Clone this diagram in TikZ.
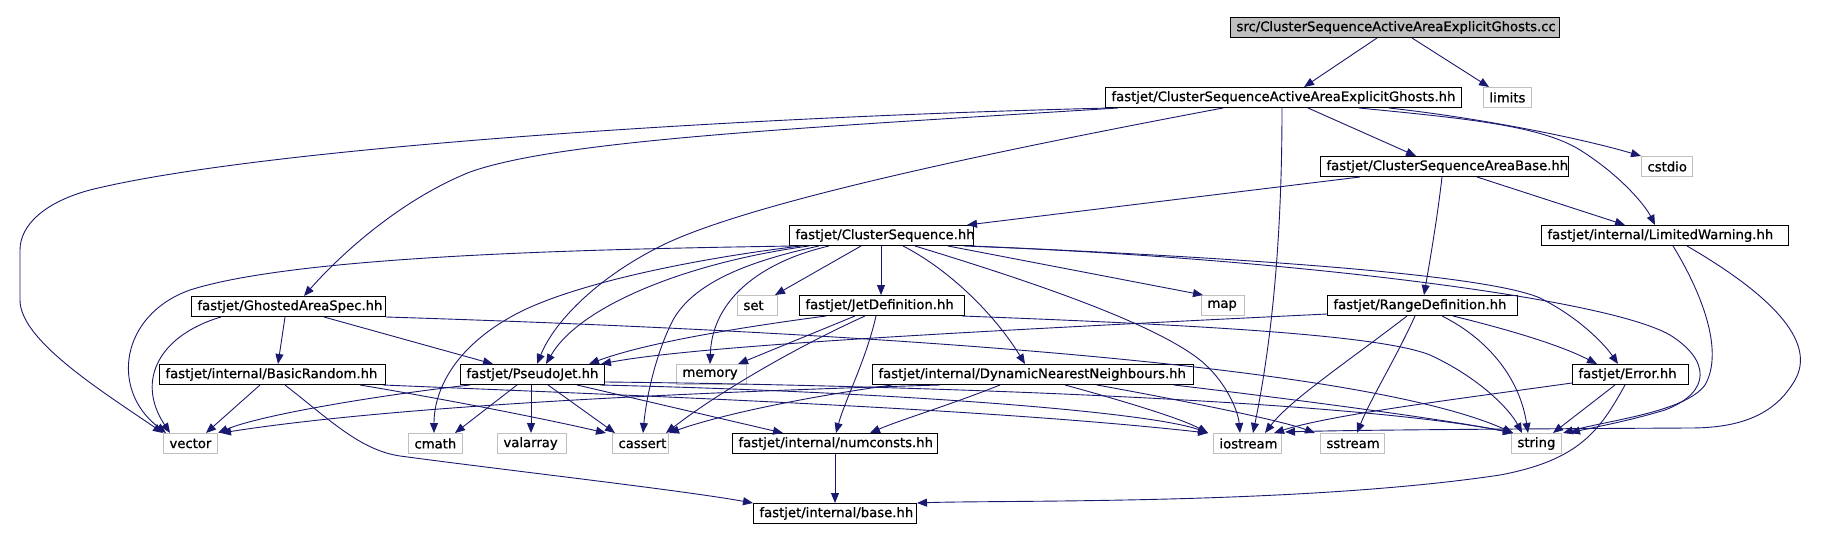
\documentclass[tikz,border=0pt]{standalone}
\usepackage{fontspec}
\newfontfamily\dgfont{DejaVu Sans}[FakeBold=0.8]
\usetikzlibrary{arrows.meta}
\definecolor{grey75}{HTML}{BFBFBF}
\definecolor{edgeblue}{HTML}{191970}
\tikzset{
  hdr/.style={draw=black, line width=1pt, rectangle, minimum height=20pt,
    inner xsep=6pt, inner ysep=0pt, align=left, anchor=north west,
    font={\dgfont\fontsize{13.2pt}{15pt}\selectfont}},
  sys/.style={hdr, draw=grey75},
  root/.style={hdr, fill=grey75},
  e/.style={draw=edgeblue, line width=0.9pt, -{Triangle[length=10pt,width=8pt]}}
}
\begin{document}
\begin{tikzpicture}[x=1pt,y=-1pt]
\path[use as bounding box, fill=white] (0,0) rectangle (1844,540);
% nodes
\node[root, text width=317pt] (src) at (1230,17) {\mbox{src/ClusterSequenceActiveAreaExplicitGhosts.cc}};
\node[hdr, text width=344pt] (csaaeg) at (1105,87) {\mbox{fastjet/ClusterSequenceActiveAreaExplicitGhosts.hh}};
\node[sys, text width=36pt] (limits) at (1483,87) {\mbox{limits}};
\node[hdr, text width=236pt] (csab) at (1320,156) {\mbox{fastjet/ClusterSequenceAreaBase.hh}};
\node[sys, text width=39pt] (cstdio) at (1641,156) {\mbox{cstdio}};
\node[hdr, text width=172pt] (cs) at (789,225) {\mbox{fastjet/ClusterSequence.hh}};
\node[hdr, text width=235pt] (lw) at (1541,225) {\mbox{fastjet/internal/LimitedWarning.hh}};
\node[hdr, text width=182pt] (gas) at (191,296) {\mbox{fastjet/GhostedAreaSpec.hh}};
\node[sys, text width=28pt] (set) at (737,295) {\mbox{set}};
\node[hdr, text width=153pt] (jetdef) at (799,295) {\mbox{fastjet/JetDefinition.hh}};
\node[sys, text width=31pt] (map) at (1201,295) {\mbox{map}};
\node[hdr, text width=178pt] (rangedef) at (1327,295) {\mbox{fastjet/RangeDefinition.hh}};
\node[hdr, text width=214pt] (basicrandom) at (159,364) {\mbox{fastjet/internal/BasicRandom.hh}};
\node[hdr, text width=132pt] (pseudojet) at (460,364) {\mbox{fastjet/PseudoJet.hh}};
\node[sys, text width=58pt] (memory) at (676,364) {\mbox{memory}};
\node[hdr, text width=309pt] (dnn) at (872,364) {\mbox{fastjet/internal/DynamicNearestNeighbours.hh}};
\node[hdr, text width=104pt] (error) at (1572,364) {\mbox{fastjet/Error.hh}};
\node[sys, text width=42pt] (vector) at (163,433) {\mbox{vector}};
\node[sys, text width=42pt] (cmath) at (408,433) {\mbox{cmath}};
\node[sys, text width=57pt] (valarray) at (497,433) {\mbox{valarray}};
\node[sys, text width=44pt] (cassert) at (612,433) {\mbox{cassert}};
\node[hdr, text width=193pt] (numconsts) at (732,433) {\mbox{fastjet/internal/numconsts.hh}};
\node[sys, text width=56pt] (iostream) at (1213,433) {\mbox{iostream}};
\node[sys, text width=52pt] (sstream) at (1320,433) {\mbox{sstream}};
\node[sys, text width=38pt] (string) at (1511,433) {\mbox{string}};
\node[hdr, text width=151pt] (base) at (753,503) {\mbox{fastjet/internal/base.hh}};
% src
\draw[e] ([xshift=147pt]src.south west) -- ([xshift=199pt]csaaeg.north west);
\draw[e] ([xshift=182pt]src.south west) -- ([xshift=6pt]limits.north west);
% csaaeg
\draw[e] ([xshift=5pt]csaaeg.south west) .. controls (700,118) and (250,150) .. (90,190) .. controls (45,202) and (20,225) .. (20,250) -- (20,300) .. controls (20,340) and (100,390) .. (vector.north west);
\draw[e] ([xshift=13pt]csaaeg.south west) .. controls (800,128) and (560,140) .. (470,172) .. controls (400,200) and (340,255) .. ([xshift=113pt]gas.north west);
\draw[e] ([xshift=118pt]csaaeg.south west) .. controls (1000,150) and (760,200) .. (667,243) .. controls (600,275) and (555,320) .. ([xshift=77pt]pseudojet.north west);
\draw[e] ([xshift=177pt]csaaeg.south west) .. controls (1282,250) and (1270,350) .. ([xshift=40pt]iostream.north west);
\draw[e] ([xshift=203pt]csaaeg.south west) -- ([xshift=96pt]csab.north west);
\draw[e] ([xshift=254pt]csaaeg.south west) .. controls (1460,118) and (1540,125) .. (1580,150) .. controls (1620,175) and (1645,205) .. ([xshift=114pt]lw.north west);
\draw[e] ([xshift=284pt]csaaeg.south west) .. controls (1480,118) and (1580,138) .. (cstdio.north west);
% csab
\draw[e] ([xshift=40pt]csab.south west) -- ([xshift=-7pt]cs.north east);
\draw[e] ([xshift=122pt]csab.south west) .. controls (1437,220) and (1430,260) .. ([xshift=97pt]rangedef.north west);
\draw[e] ([xshift=157pt]csab.south west) -- ([xshift=84pt]lw.north west);
% cs
\draw[e] ([xshift=5pt]cs.south west) .. controls (600,249) and (300,255) .. (190,290) .. controls (120,315) and (110,390) .. ([xshift=3pt]vector.north west);
\draw[e] ([xshift=12pt]cs.south west) .. controls (700,258) and (580,282) .. (520,312) .. controls (455,345) and (434,390) .. ([xshift=26pt]cmath.north west);
\draw[e] ([xshift=20pt]cs.south west) .. controls (690,262) and (580,305) .. ([xshift=86pt]pseudojet.north west);
\draw[e] ([xshift=30pt]cs.south west) .. controls (730,265) and (690,290) .. (673,320) .. controls (655,355) and (646,400) .. ([xshift=31pt]cassert.north west);
\draw[e] ([xshift=40pt]cs.south west) .. controls (760,262) and (712,300) .. ([xshift=34pt]memory.north west);
\draw[e] ([xshift=72pt]cs.south west) -- ([xshift=-3pt]set.north east);
\draw[e] ([xshift=92pt]cs.south west) -- ([xshift=82pt]jetdef.north west);
\draw[e] ([xshift=114pt]cs.south west) .. controls (950,270) and (995,315) .. ([xshift=153pt]dnn.north west);
\draw[e] ([xshift=126pt]cs.south west) .. controls (1010,275) and (1150,320) .. (1200,360) .. controls (1225,380) and (1238,410) .. ([xshift=27pt]iostream.north west);
\draw[e] ([xshift=159pt]cs.south west) -- ([xshift=2pt]map.north west);
\draw[e] ([xshift=-3pt]cs.south east) .. controls (1200,256) and (1480,272) .. (1540,298) .. controls (1580,318) and (1605,345) .. ([xshift=46pt]error.north west);
\draw[e] ([xshift=-10pt]cs.south east) .. controls (1250,256) and (1600,295) .. (1670,335) .. controls (1710,360) and (1712,392) .. (1665,410) .. controls (1625,422) and (1590,428) .. ([xshift=59pt]string.north west);
% lw
\draw[e] ([xshift=132pt]lw.south west) .. controls (1700,290) and (1725,350) .. (1705,385) .. controls (1685,412) and (1610,420) .. ([xshift=52pt]string.north west);
\draw[e] ([xshift=146pt]lw.south west) .. controls (1780,300) and (1815,345) .. (1795,380) .. controls (1775,415) and (1740,428) .. (1690,428) .. controls (1500,429) and (1350,430) .. ([xshift=3pt,yshift=1pt]iostream.north east);
% gas
\draw[e] ([xshift=94pt]gas.south west) -- ([xshift=119pt]basicrandom.north west);
\draw[e] ([xshift=133pt]gas.south west) -- ([xshift=33pt]pseudojet.north west);
\draw[e] ([xshift=30pt]gas.south west) .. controls (160,335) and (135,380) .. ([xshift=7pt]vector.north west);
\draw[e] (gas.south east) .. controls (800,330) and (1350,360) .. ([xshift=2pt]string.north west);
% jetdef
\draw[e] ([xshift=27pt]jetdef.south west) .. controls (720,330) and (640,345) .. ([xshift=129pt]pseudojet.north west);
\draw[e] ([xshift=56pt]jetdef.south west) -- ([xshift=62pt]memory.north west);
\draw[e] ([xshift=66pt]jetdef.south west) .. controls (790,350) and (715,395) .. ([xshift=-3pt]cassert.north east);
\draw[e] ([xshift=77pt]jetdef.south west) .. controls (866,360) and (845,400) .. ([xshift=104pt]numconsts.north west);
\draw[e] ([xshift=-3pt]jetdef.south east) .. controls (1200,325) and (1380,335) .. (1430,355) .. controls (1480,378) and (1510,410) .. ([xshift=11pt]string.north west);
% pseudojet
\draw[e] ([xshift=10pt]pseudojet.south west) .. controls (380,395) and (260,415) .. (vector.north east);
\draw[e] ([xshift=57pt]pseudojet.south west) -- ([xshift=47pt]cmath.north west);
\draw[e] ([xshift=71pt]pseudojet.south west) -- ([xshift=34pt]valarray.north west);
\draw[e] ([xshift=88pt]pseudojet.south west) -- ([xshift=3pt]cassert.north west);
\draw[e] ([xshift=117pt]pseudojet.south west) -- ([xshift=51pt]numconsts.north west);
\draw[e] ([xshift=140pt]pseudojet.south west) .. controls (900,392) and (1150,412) .. ([xshift=-5pt]iostream.north west);
\draw[e] ([yshift=3pt]pseudojet.south east) .. controls (900,385) and (1350,400) .. ([xshift=2pt]string.north west);
% basicrandom
\draw[e] ([xshift=101pt]basicrandom.south west) -- ([xshift=43pt]vector.north west);
\draw[e] ([xshift=126pt]basicrandom.south west) .. controls (330,420) and (360,450) .. (400,456) .. controls (520,472) and (680,490) .. (base.north west);
\draw[e] ([xshift=201pt]basicrandom.south west) .. controls (450,400) and (550,420) .. ([xshift=-6pt]cassert.north west);
\draw[e] ([xshift=-3pt]basicrandom.south east) .. controls (700,398) and (1000,410) .. ([xshift=-5pt]iostream.north west);
% dnn
\draw[e] ([xshift=68pt]dnn.south west) .. controls (700,392) and (400,405) .. ([xshift=3pt]vector.north east);
\draw[e] ([xshift=20pt]dnn.south west) .. controls (800,398) and (720,415) .. (cassert.north east);
\draw[e] ([xshift=128pt]dnn.south west) .. controls (950,405) and (900,420) .. ([xshift=138pt]numconsts.north west);
\draw[e] ([xshift=193pt]dnn.south west) .. controls (1120,400) and (1180,418) .. ([xshift=-5pt]iostream.north west);
\draw[e] ([xshift=225pt]dnn.south west) .. controls (1180,400) and (1280,420) .. ([xshift=-5pt]sstream.north west);
\draw[e] ([xshift=-20pt]dnn.south east) .. controls (1300,400) and (1450,420) .. ([xshift=2pt]string.north west);
% rangedef
\draw[e] ([yshift=2pt]rangedef.south west) .. controls (1000,330) and (700,345) .. ([xshift=141pt]pseudojet.north west);
\draw[e] ([xshift=80pt]rangedef.south west) .. controls (1350,360) and (1290,400) .. ([xshift=52pt]iostream.north west);
\draw[e] ([xshift=88pt]rangedef.south west) .. controls (1395,360) and (1370,400) .. ([xshift=37pt]sstream.north west);
\draw[e] ([xshift=115pt]rangedef.south west) .. controls (1490,340) and (1520,380) .. ([xshift=17pt]string.north west);
\draw[e] ([xshift=126pt]rangedef.south west) .. controls (1510,330) and (1560,345) .. ([xshift=25pt]error.north west);
% error
\draw[e] ([yshift=2pt]error.south west) .. controls (1450,400) and (1330,415) .. ([xshift=-8pt]iostream.north east);
\draw[e] ([xshift=43pt]error.south west) -- ([xshift=42pt]string.north west);
\draw[e] ([xshift=53pt]error.south west) .. controls (1600,430) and (1580,460) .. (1500,475) .. controls (1300,505) and (1000,500) .. (base.north east);
% numconsts
\draw[e] (numconsts.south) -- (base.north);
\end{tikzpicture}
\end{document}
